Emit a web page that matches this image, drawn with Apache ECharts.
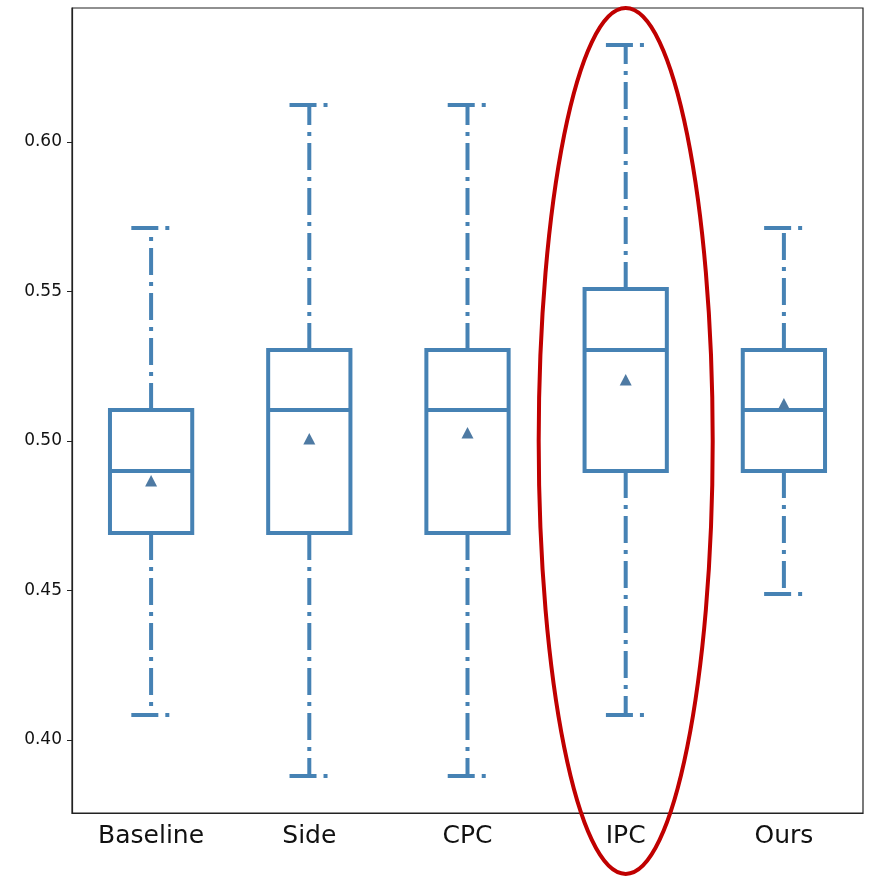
<!DOCTYPE html>
<html>
<head>
<meta charset="utf-8">
<script src="https://cdn.jsdelivr.net/npm/echarts@6/dist/echarts.min.js"></script>
<style>html,body{margin:0;padding:0;background:#fff}#c{width:869px;height:877px}</style>
</head>
<body>
<div id="c"></div>
<script>
const categories = ['Baseline', 'Side', 'CPC', 'IPC', 'Ours'];
const whiskerLow  = [0.4084, 0.3880, 0.3880, 0.4084, 0.4488];
const q1Values    = [0.4692, 0.4692, 0.4692, 0.4900, 0.4900];
const medians     = [0.4900, 0.5104, 0.5104, 0.5304, 0.5104];
const q3Values    = [0.5104, 0.5304, 0.5304, 0.5508, 0.5304];
const whiskerHigh = [0.5712, 0.6124, 0.6124, 0.6324, 0.5712];
const means       = [0.4866, 0.5007, 0.5027, 0.5204, 0.5124];
const yTickValues = [0.40, 0.45, 0.50, 0.55, 0.60];
const highlightCategory = 'IPC';
const highlightRange = [0.3552, 0.6448];

const COLOR = '#4682b4';
const MEAN_COLOR = '#4e7aa3';
const DASH = [27, 7, 4, 7];

const boxData = categories.map((c, i) => [i, whiskerLow[i], q1Values[i], medians[i], q3Values[i], whiskerHigh[i], means[i]]);

function renderBox(params, api) {
  const i = api.value(0);
  const pLow = api.coord([i, api.value(1)]);
  const pQ1 = api.coord([i, api.value(2)]);
  const pMed = api.coord([i, api.value(3)]);
  const pQ3 = api.coord([i, api.value(4)]);
  const pHigh = api.coord([i, api.value(5)]);
  const pMean = api.coord([i, api.value(6)]);
  const band = api.size([1, 0])[0];
  const hw = band * 0.26;
  const cw = band * 0.125;
  const x = pQ1[0];
  const solid = {stroke: COLOR, lineWidth: 4, fill: null};
  const dashed = {stroke: COLOR, lineWidth: 4, lineDash: DASH, lineCap: 'butt', fill: null};
  return {
    type: 'group',
    children: [
      {type: 'line', shape: {x1: x, y1: pQ3[1], x2: x, y2: pHigh[1]}, style: dashed},
      {type: 'line', shape: {x1: x, y1: pQ1[1], x2: x, y2: pLow[1]}, style: dashed},
      {type: 'line', shape: {x1: x - cw, y1: pHigh[1], x2: x + cw, y2: pHigh[1]}, style: dashed},
      {type: 'line', shape: {x1: x - cw, y1: pLow[1], x2: x + cw, y2: pLow[1]}, style: dashed},
      {type: 'rect', shape: {x: x - hw, y: pQ3[1], width: 2 * hw, height: pQ1[1] - pQ3[1]}, style: solid},
      {type: 'line', shape: {x1: x - hw, y1: pMed[1], x2: x + hw, y2: pMed[1]}, style: solid},
      {type: 'polygon', shape: {points: [[x, pMean[1] - 6], [x - 6, pMean[1] + 5.5], [x + 6, pMean[1] + 5.5]]}, style: {fill: MEAN_COLOR}}
    ]
  };
}

function renderEllipse(params, api) {
  const i = api.value(0);
  const top = api.coord([i, api.value(2)]);
  const bot = api.coord([i, api.value(1)]);
  const band = api.size([1, 0])[0];
  return {
    type: 'ellipse',
    shape: {cx: top[0], cy: (top[1] + bot[1]) / 2, rx: band * 0.55, ry: (bot[1] - top[1]) / 2},
    style: {stroke: '#c00000', lineWidth: 4, fill: null}
  };
}

const chart = echarts.init(document.getElementById('c'), null, {renderer: 'canvas'});
chart.setOption({
  animation: false,
  backgroundColor: '#fff',
  grid: {left: 72, right: 6, top: 8, bottom: 64, show: true, borderColor: '#222', borderWidth: 1.2, backgroundColor: 'transparent'},
  xAxis: {
    type: 'category',
    data: categories,
    boundaryGap: true,
    axisLine: {lineStyle: {color: '#222', width: 1.2}},
    axisTick: {alignWithLabel: true, length: 5, lineStyle: {color: '#222'}},
    axisLabel: {fontSize: 25, color: '#111', margin: 11, fontFamily: 'DejaVu Sans'},
    splitLine: {show: false}
  },
  yAxis: {
    type: 'value',
    min: 0.3756,
    max: 0.6448,
    axisLine: {show: true, lineStyle: {color: '#222', width: 1.2}},
    axisTick: {show: true, length: 5, customValues: yTickValues, lineStyle: {color: '#222'}},
    axisLabel: {fontSize: 17, color: '#111', margin: 10, fontFamily: 'DejaVu Sans', customValues: yTickValues, formatter: v => v.toFixed(2)},
    splitLine: {show: false}
  },
  series: [
    {type: 'custom', renderItem: renderBox, data: boxData, encode: {x: 0, y: [1, 2, 3, 4, 5, 6]}, clip: false, z: 2},
    {type: 'custom', renderItem: renderEllipse, data: [[categories.indexOf(highlightCategory), highlightRange[0], highlightRange[1]]], encode: {x: 0, y: [1, 2]}, clip: false, z: 3}
  ]
});
</script>
</body>
</html>
